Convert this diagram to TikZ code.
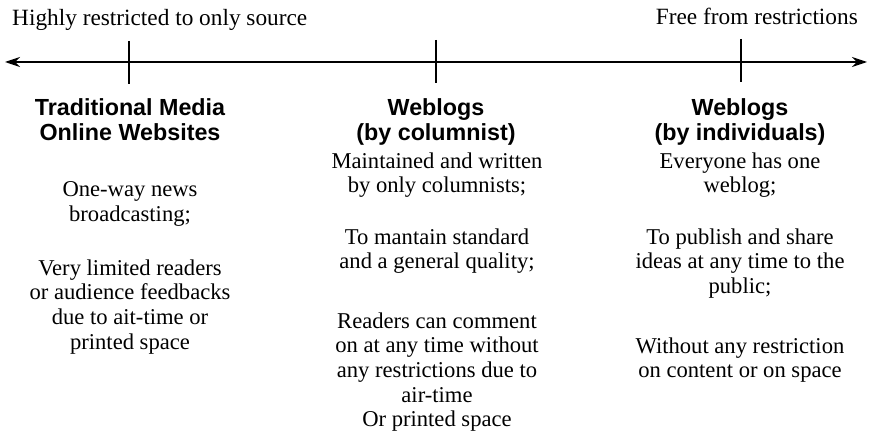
\documentclass[tikz,border=0pt]{standalone}
\usepackage{fontspec}
\setmainfont{Liberation Serif}
\newfontfamily\headfont{Liberation Sans}
\usetikzlibrary{arrows.meta}
\begin{document}
\begin{tikzpicture}[x=1pt,y=-1pt,
  body/.style={align=center, anchor=base, inner sep=0pt, font=\fontsize{22.6}{24.7}\selectfont},
  head/.style={align=center, anchor=base, inner sep=0pt, font=\headfont\bfseries\fontsize{23.3}{25}\selectfont},
  side/.style={inner sep=0pt, font=\fontsize{23.3}{24.7}\selectfont},
  axisline/.style={line width=1.4pt, {Stealth[length=15pt,width=10pt,inset=5pt]}-{Stealth[length=15pt,width=10pt,inset=5pt]}},
  tickline/.style={line width=1.4pt}]
\useasboundingbox (0,0) rectangle (873,441);
% axis
\coordinate (L) at (5,62);
\coordinate (R) at (867,62);
\draw[axisline] (L) -- (R);
\coordinate (t1a) at (129,41); \coordinate (t1b) at (129,84);
\coordinate (t2a) at (436,40); \coordinate (t2b) at (436,83);
\coordinate (t3a) at (741,39); \coordinate (t3b) at (741,82);
\draw[tickline] (t1a) -- (t1b);
\draw[tickline] (t2a) -- (t2b);
\draw[tickline] (t3a) -- (t3b);
% side labels (anchor base = baseline of last line)
\node[side, anchor=base west] (lefttxt) at (12,26) {Highly restricted to only source};
\node[side, anchor=base east] (righttxt) at (858,25) {Free from restrictions};
% column 1
\node[head] (h1) at (130,141) {Traditional Media\\Online Websites};
\node[body] (c1a) at (130,221.2) {One-way news\\broadcasting;};
\node[body] (c1b) at (130,349.1) {Very limited readers\\or audience feedbacks\\due to ait-time or\\printed space};
% column 2
\node[head] (h2) at (436,141) {Weblogs\\(by columnist)};
\node[body] (c2a) at (437,192.7) {Maintained and written\\by only columnists;};
\node[body] (c2b) at (437,268.7) {To mantain standard\\and a general quality;};
\node[body] (c2c) at (437,426.8) {Readers can comment\\on at any time without\\any restrictions due to\\air-time\\Or printed space};
% column 3
\node[head] (h3) at (740,141) {Weblogs\\(by individuals)};
\node[body] (c3a) at (740,192.7) {Everyone has one\\weblog;};
\node[body] (c3b) at (740,293.4) {To publish and share\\ideas at any time to the\\public;};
\node[body] (c3c) at (740,377.7) {Without any restriction\\on content or on space};
\end{tikzpicture}
\end{document}
